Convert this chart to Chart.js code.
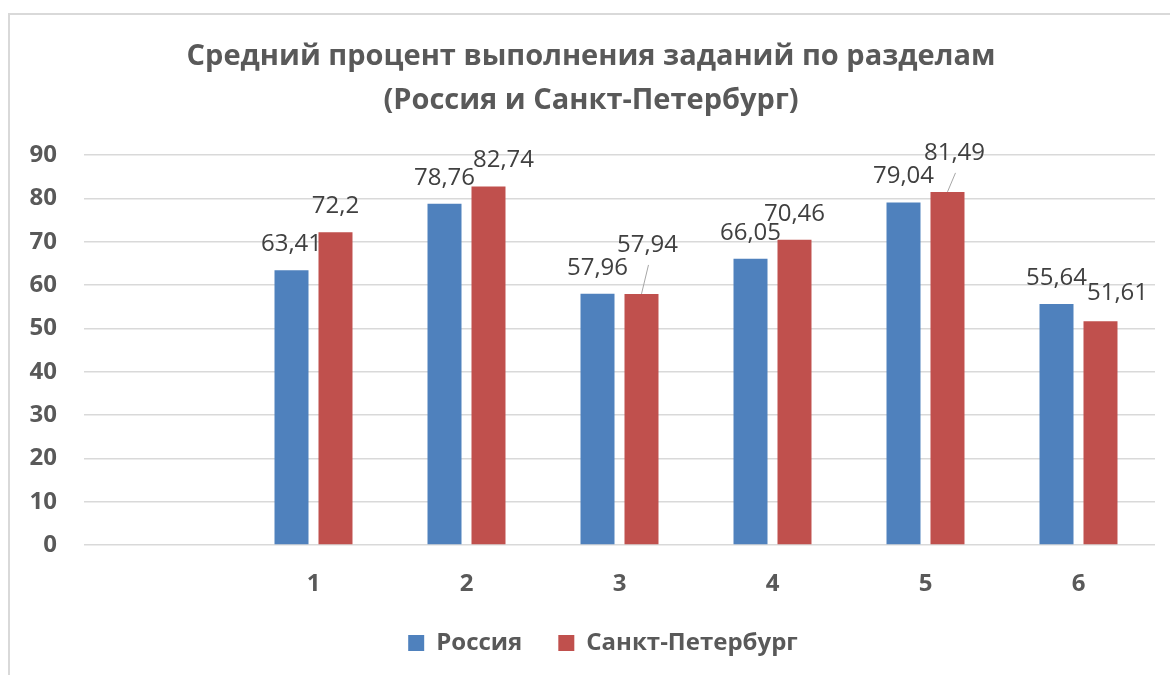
<!DOCTYPE html>
<html>
<head>
<meta charset="utf-8">
<script src="https://cdn.jsdelivr.net/npm/chart.js@4/dist/chart.umd.min.js"></script>
<style>
  html, body { margin: 0; padding: 0; background: #fff; }
  #wrap { width: 1170px; height: 675px; position: relative; }
</style>
</head>
<body>
<div id="wrap"><canvas id="myChart" width="1170" height="675"></canvas></div>
<script>
// first category is empty in the original chart
const categories = ['', '1', '2', '3', '4', '5', '6'];
const russia = [null, 63.41, 78.76, 57.96, 66.05, 79.04, 55.64];
const spb = [null, 72.2, 82.74, 57.94, 70.46, 81.49, 51.61];
const yTicks = [0, 10, 20, 30, 40, 50, 60, 70, 80, 90];

const ctx = document.getElementById('myChart');
const FONT = "'Open Sans', sans-serif";

// light frame round the chart, like the Excel chart area
const framePlugin = {
  id: 'frame',
  beforeDraw(chart) {
    const c = chart.ctx;
    c.save();
    c.strokeStyle = '#d9d9d9';
    c.lineWidth = 2;
    c.beginPath();
    c.moveTo(9, 676);
    c.lineTo(9, 14);
    c.lineTo(1171, 14);
    c.stroke();
    c.restore();
  },
  // the legend in the original sits a little right of centre
  afterLayout(chart) {
    if (chart.legend) {
      chart.legend.left += 12;
      chart.legend.right += 12;
    }
  }
};

// value labels above bars, some moved by hand as in the original
const valueLabels = {
  id: 'valueLabels',
  afterDatasetsDraw(chart, args, opts) {
    const c = chart.ctx;
    c.save();
    c.font = '24px ' + FONT;
    c.fillStyle = '#404040';
    c.textAlign = 'center';
    c.textBaseline = 'middle';
    chart.data.datasets.forEach((ds, di) => {
      const meta = chart.getDatasetMeta(di);
      meta.data.forEach((bar, i) => {
        const v = ds.data[i];
        if (v == null) return;
        const s = (opts.shift[di] && opts.shift[di][i]) || {};
        const x = bar.x + (s.dx || 0);
        const y = bar.y - 26 + (s.dy || 0);
        c.fillText(String(v).replace('.', ','), x, y);
        if (s.leader) {
          c.strokeStyle = '#a6a6a6';
          c.lineWidth = 1;
          c.beginPath();
          c.moveTo(x + 1, y + 20);
          c.lineTo(bar.x, bar.y);
          c.stroke();
        }
      });
    });
    c.restore();
  }
};

new Chart(ctx, {
  type: 'bar',
  data: {
    labels: categories,
    datasets: [{
      label: 'Россия',
      data: russia,
      backgroundColor: '#4F81BD',
      borderWidth: 0,
      barPercentage: 0.773,
      categoryPercentage: 0.575
    }, {
      label: 'Санкт-Петербург',
      data: spb,
      backgroundColor: '#C0504D',
      borderWidth: 0,
      barPercentage: 0.773,
      categoryPercentage: 0.575
    }]
  },
  options: {
    responsive: false,
    animation: false,
    layout: {
      padding: { left: 27, right: 15, top: 0, bottom: 10 }
    },
    scales: {
      x: {
        grid: { display: false },
        border: { display: false },
        afterFit(scale) {
          scale.height = 50;
        },
        ticks: {
          color: '#595959',
          font: { family: FONT, size: 24, weight: 'bold' },
          padding: 17
        }
      },
      y: {
        min: 0,
        max: 90,
        afterBuildTicks(scale) {
          scale.ticks = yTicks.map(v => ({ value: v }));
        },
        afterFit(scale) {
          scale.width = 57;
        },
        grid: { color: '#d9d9d9', lineWidth: 1.5, drawTicks: false },
        border: { display: false },
        ticks: {
          color: '#595959',
          font: { family: FONT, size: 24, weight: 'bold' },
          padding: 27
        }
      }
    },
    plugins: {
      title: {
        display: true,
        text: ['Средний процент выполнения заданий по разделам', '(Россия и Санкт-Петербург)'],
        color: '#595959',
        font: { family: FONT, size: 29, weight: 'bold', lineHeight: 44 / 29 },
        padding: { top: 35, bottom: 32 }
      },
      legend: {
        position: 'bottom',
        labels: {
          color: '#595959',
          font: { family: FONT, size: 24, weight: 'bold' },
          boxWidth: 16,
          boxHeight: 16,
          padding: 36
        }
      },
      tooltip: { enabled: false },
      valueLabels: {
        shift: {
          1: {
            2: { dx: 15 },
            3: { dx: 6, dy: -23, leader: true },
            5: { dx: 7, dy: -13, leader: true },
            6: { dx: 17, dy: -2 }
          }
        }
      }
    }
  },
  plugins: [framePlugin, valueLabels]
});
</script>
</body>
</html>
